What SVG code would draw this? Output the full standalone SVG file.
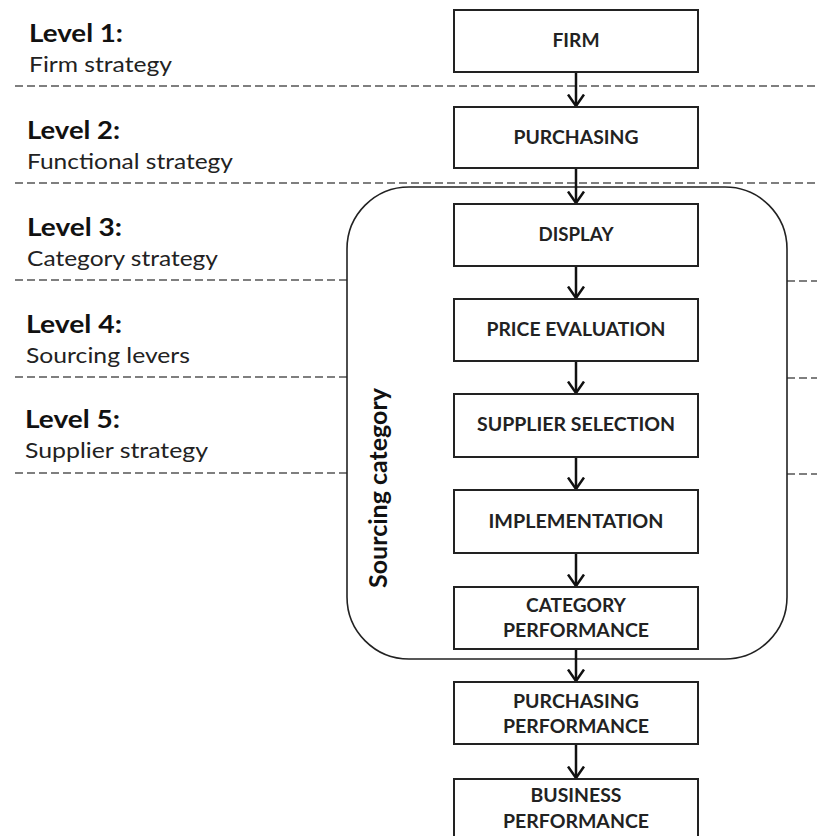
<svg xmlns="http://www.w3.org/2000/svg" width="817" height="836" viewBox="0 0 817 836">
  <style>
    .lvl { font-family: Lato, "Open Sans", "Liberation Sans", sans-serif; font-weight: bold; font-size: 24px; fill: #111; }
    .sub { font-family: Lato, "Open Sans", "Liberation Sans", sans-serif; font-size: 22px; fill: #222; }
    .box { fill: #fff; stroke: #222; stroke-width: 2; }
    .lbl { font-family: Lato, "Open Sans", "Liberation Sans", sans-serif; font-weight: bold; font-size: 18px; fill: #222; text-anchor: middle; }
    .dash { stroke: #555; stroke-width: 1.6; stroke-dasharray: 8 4; fill: none; }
    .cat { fill: none; stroke: #222; stroke-width: 1.6; }
    .conn { stroke: #111; stroke-width: 2.5; fill: none; marker-end: url(#arr); }
  </style>
  <defs>
    <marker id="arr" markerUnits="userSpaceOnUse" viewBox="0 0 14 18" markerWidth="14" markerHeight="18" refX="12.5" refY="9" orient="auto">
      <path d="M1,1 L12.5,9 L1,17" fill="none" stroke="#111" stroke-width="2.5"/>
    </marker>
  </defs>

  <rect width="817" height="836" fill="#fff"/>

  <!-- level separators -->
  <g id="separators">
    <line class="dash" x1="15" y1="86" x2="817" y2="86"/>
    <line class="dash" x1="15" y1="183" x2="817" y2="183"/>
    <line class="dash" x1="15" y1="280" x2="347" y2="280"/>
    <line class="dash" x1="787" y1="281" x2="817" y2="281"/>
    <line class="dash" x1="15" y1="377" x2="347" y2="377"/>
    <line class="dash" x1="787" y1="378" x2="817" y2="378"/>
    <line class="dash" x1="15" y1="473" x2="347" y2="473"/>
    <line class="dash" x1="787" y1="474" x2="817" y2="474"/>
  </g>

  <!-- level captions -->
  <g id="levels">
    <text class="lvl" x="29" y="42" textLength="94" lengthAdjust="spacingAndGlyphs">Level 1:</text>
    <text class="sub" x="29" y="72" textLength="143" lengthAdjust="spacingAndGlyphs">Firm strategy</text>
    <text class="lvl" x="27" y="139" textLength="93" lengthAdjust="spacingAndGlyphs">Level 2:</text>
    <text class="sub" x="27" y="169" textLength="206" lengthAdjust="spacingAndGlyphs">Functional strategy</text>
    <text class="lvl" x="27" y="236" textLength="95" lengthAdjust="spacingAndGlyphs">Level 3:</text>
    <text class="sub" x="27" y="266" textLength="191" lengthAdjust="spacingAndGlyphs">Category strategy</text>
    <text class="lvl" x="26" y="333" textLength="96" lengthAdjust="spacingAndGlyphs">Level 4:</text>
    <text class="sub" x="26" y="363" textLength="164" lengthAdjust="spacingAndGlyphs">Sourcing levers</text>
    <text class="lvl" x="25" y="428" textLength="95" lengthAdjust="spacingAndGlyphs">Level 5:</text>
    <text class="sub" x="25" y="458" textLength="183" lengthAdjust="spacingAndGlyphs">Supplier strategy</text>
  </g>

  <!-- sourcing category container -->
  <g id="sourcing-category">
    <rect class="cat" x="347" y="187" width="440" height="472" rx="62" ry="62"/>
    <text class="lvl" transform="translate(387,488) rotate(-90)" text-anchor="middle" textLength="200" lengthAdjust="spacingAndGlyphs">Sourcing category</text>
  </g>

  <!-- connectors -->
  <g id="connectors">
    <line class="conn" x1="576" y1="72" x2="576" y2="106"/>
    <line class="conn" x1="576" y1="168" x2="576" y2="203"/>
    <line class="conn" x1="576" y1="266" x2="576" y2="298"/>
    <line class="conn" x1="576" y1="361" x2="576" y2="393"/>
    <line class="conn" x1="576" y1="457" x2="576" y2="489"/>
    <line class="conn" x1="576" y1="553" x2="576" y2="586"/>
    <line class="conn" x1="576" y1="649" x2="576" y2="681"/>
    <line class="conn" x1="576" y1="744" x2="576" y2="778"/>
  </g>

  <!-- nodes -->
  <g id="firm">
    <rect class="box" x="454" y="10" width="244" height="62"/>
    <text class="lbl" x="576" y="47" textLength="47" lengthAdjust="spacingAndGlyphs">FIRM</text>
  </g>
  <g id="purchasing">
    <rect class="box" x="454" y="107" width="244" height="61"/>
    <text class="lbl" x="576" y="144" textLength="125" lengthAdjust="spacingAndGlyphs">PURCHASING</text>
  </g>
  <g id="display">
    <rect class="box" x="454" y="204" width="244" height="62"/>
    <text class="lbl" x="576" y="241" textLength="75" lengthAdjust="spacingAndGlyphs">DISPLAY</text>
  </g>
  <g id="price-evaluation">
    <rect class="box" x="454" y="299" width="244" height="62"/>
    <text class="lbl" x="576" y="336" textLength="179" lengthAdjust="spacingAndGlyphs">PRICE EVALUATION</text>
  </g>
  <g id="supplier-selection">
    <rect class="box" x="454" y="394" width="244" height="63"/>
    <text class="lbl" x="576" y="431" textLength="198" lengthAdjust="spacingAndGlyphs">SUPPLIER SELECTION</text>
  </g>
  <g id="implementation">
    <rect class="box" x="454" y="490" width="244" height="63"/>
    <text class="lbl" x="576" y="528" textLength="175" lengthAdjust="spacingAndGlyphs">IMPLEMENTATION</text>
  </g>
  <g id="category-performance">
    <rect class="box" x="454" y="587" width="244" height="62"/>
    <text class="lbl" x="576" y="612" textLength="100" lengthAdjust="spacingAndGlyphs">CATEGORY</text>
    <text class="lbl" x="576" y="637" textLength="146" lengthAdjust="spacingAndGlyphs">PERFORMANCE</text>
  </g>
  <g id="purchasing-performance">
    <rect class="box" x="454" y="682" width="244" height="62"/>
    <text class="lbl" x="576" y="708" textLength="126" lengthAdjust="spacingAndGlyphs">PURCHASING</text>
    <text class="lbl" x="576" y="733" textLength="146" lengthAdjust="spacingAndGlyphs">PERFORMANCE</text>
  </g>
  <g id="business-performance">
    <rect class="box" x="454" y="779" width="244" height="70"/>
    <text class="lbl" x="576" y="802" textLength="91" lengthAdjust="spacingAndGlyphs">BUSINESS</text>
    <text class="lbl" x="576" y="828" textLength="146" lengthAdjust="spacingAndGlyphs">PERFORMANCE</text>
  </g>
</svg>
